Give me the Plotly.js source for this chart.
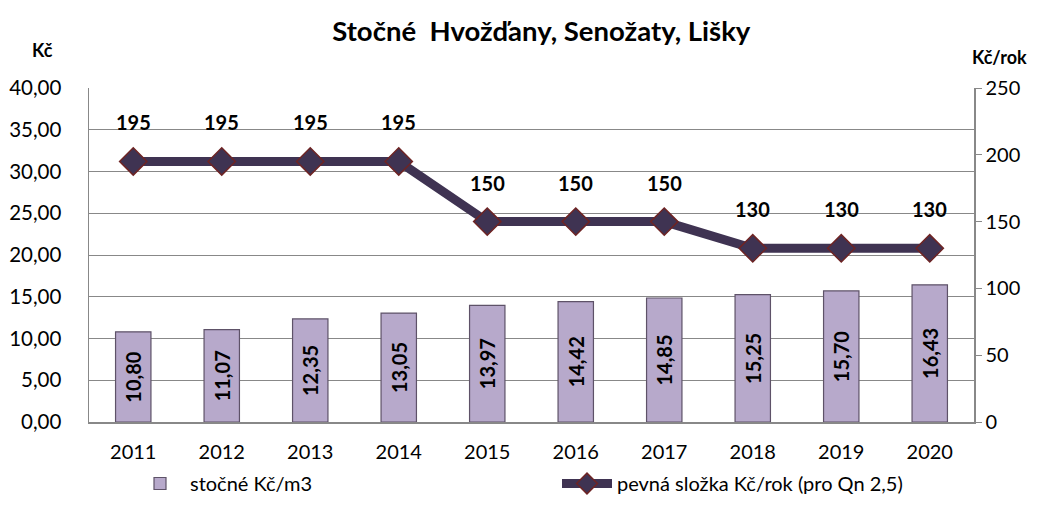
<!DOCTYPE html>
<html><head><meta charset="utf-8">
<script src="https://cdn.plot.ly/plotly-3.0.1.min.js"></script>
<style>body{margin:0;background:#fff}#c{width:1037px;height:517px}</style>
</head><body><div id="c"></div>
<script>
const years = ['2011','2012','2013','2014','2015','2016','2017','2018','2019','2020'];
const stocne = [10.80, 11.07, 12.35, 13.05, 13.97, 14.42, 14.85, 15.25, 15.70, 16.43];
const pevna = [195, 195, 195, 195, 150, 150, 150, 130, 130, 130];
const barName = 'stočné Kč/m3';
const lineName = 'pevná složka Kč/rok (pro Qn 2,5)';
const titleText = 'Stočné  Hvožďany, Senožaty, Lišky';
const leftUnit = 'Kč';
const rightUnit = 'Kč/rok';

const F = 'Lato, "Open Sans", sans-serif';
const W = 1037, H = 517, ml = 89, mr = 63, mt = 88, mb = 95;
const pw = W - ml - mr, ph = H - mt - mb;
function px(x){return (x - ml)/pw;}
function py(y){return (H - mb - y)/ph;}

const traces = [
  {
    type: 'bar', x: years, y: stocne, name: barName,
    marker: {color: '#b7a9cb', line: {color: '#5e5268', width: 1.2}},
    texttemplate: '%{y:.2f}', textposition: 'inside', insidetextanchor: 'middle',
    textangle: -90, textfont: {family: F, size: 20, color: '#000', weight: 'bold'},
    hoverinfo: 'skip'
  },
  {
    type: 'scatter', mode: 'lines+markers', x: years, y: pevna, name: lineName, yaxis: 'y2',
    line: {color: '#3f3352', width: 9},
    marker: {symbol: 'diamond', size: 21, color: '#3f3352', line: {color: '#6e2424', width: 1.5}},
    hoverinfo: 'skip'
  }
];

const annotations = pevna.map((v, i) => ({
  x: i, y: v, xref: 'x', yref: 'y2', text: String(v), showarrow: false,
  yshift: 39, font: {family: F, size: 20, color: '#000', weight: 'bold'}
}));
annotations.push({x: px(42), y: py(50), xref: 'paper', yref: 'paper', xanchor: 'center', yanchor: 'middle',
  text: leftUnit, showarrow: false, font: {family: F, size: 18, color: '#000', weight: 'bold'}});
annotations.push({x: px(1000), y: py(57), xref: 'paper', yref: 'paper', xanchor: 'center', yanchor: 'middle',
  text: rightUnit, showarrow: false, font: {family: F, size: 18, color: '#000', weight: 'bold'}});

const layout = {
  width: W, height: H,
  margin: {l: ml, r: mr, t: mt, b: mb},
  paper_bgcolor: '#fff', plot_bgcolor: '#fff',
  separators: ',.',
  title: {text: titleText, x: 0.522, xanchor: 'center', y: 0.94, yanchor: 'middle',
    font: {family: F, size: 27.5, color: '#000', weight: 'bold'}},
  bargap: 0.6,
  showlegend: true,
  legend: {orientation: 'h', x: px(130), xanchor: 'left', y: py(503), yanchor: 'bottom',
    entrywidth: 362, itemwidth: 50, traceorder: 'normal',
    font: {family: F, size: 20, color: '#000'}},
  xaxis: {type: 'category', range: [-0.5, 9.5], showline: true, linecolor: '#888', linewidth: 1.5,
    ticks: '', ticklabelstandoff: 11, tickfont: {family: F, size: 20, color: '#000'}, showgrid: false},
  yaxis: {range: [0, 40], dtick: 5, tickformat: '.2f', showline: true, linecolor: '#888', linewidth: 1.5,
    gridcolor: '#888', gridwidth: 1, zeroline: false, ticks: '', ticklabelstandoff: 22,
    tickfont: {family: F, size: 20.5, color: '#000'}},
  yaxis2: {range: [0, 250], dtick: 50, overlaying: 'y', side: 'right', showgrid: false,
    showline: true, linecolor: '#888', linewidth: 1.5, ticks: 'outside', ticklen: 6, tickcolor: '#888',
    zeroline: false, tickfont: {family: F, size: 20, color: '#000'}},
  annotations: annotations
};

Plotly.newPlot('c', traces, layout, {displayModeBar: false, staticPlot: true});
</script></body></html>
